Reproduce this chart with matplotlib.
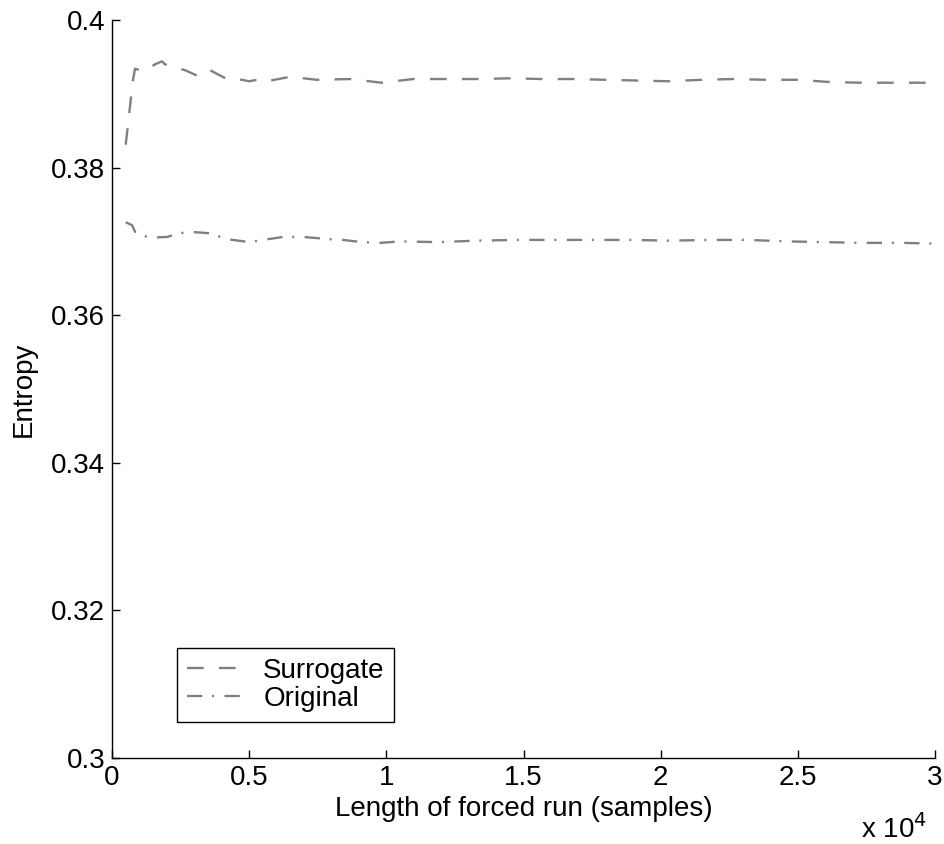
import matplotlib
matplotlib.use("Agg")
import matplotlib.pyplot as plt
from matplotlib.ticker import FuncFormatter

plt.rcParams['font.family'] = ['Liberation Sans', 'DejaVu Sans']
plt.rcParams['lines.scale_dashes'] = False

surr_x = [500, 765, 840, 1020, 1200, 1570, 1820, 1930, 2300, 2480, 2660, 3140, 3390, 3570,
          4190, 4370, 4590, 5000, 5300, 5500, 6490, 7470, 8680, 9840, 10970, 12140, 13300,
          14510, 15670, 16800, 17970, 19100, 20300, 21510, 22640, 23800, 24970, 26140,
          27300, 28470, 30000]
surr_y = [0.3831, 0.3919, 0.3934, 0.3932, 0.3931, 0.3940, 0.3944, 0.3940, 0.3935, 0.3934,
          0.3932, 0.3924, 0.3929, 0.3932, 0.3920, 0.3921, 0.3920, 0.3917, 0.3919, 0.3916,
          0.3923, 0.3919, 0.3920, 0.3915, 0.3920, 0.3920, 0.3920, 0.3921, 0.3920, 0.3920,
          0.3919, 0.3918, 0.3917, 0.3919, 0.3920, 0.3919, 0.3919, 0.3916, 0.3915, 0.3915,
          0.3915]

orig_x = [500, 730, 840, 1130, 1310, 2000, 2480, 2840, 3570, 4190, 5030, 5500, 6230, 6960,
          7950, 8420, 9110, 9770, 10500, 11880, 13300, 14760, 16150, 17530, 18950, 20340,
          21800, 23180, 24600, 25990, 27370, 28800, 30000]
orig_y = [0.3726, 0.3722, 0.3713, 0.3709, 0.3705, 0.3706, 0.3711, 0.3713, 0.3711, 0.3703,
          0.3699, 0.3702, 0.3706, 0.3706, 0.3703, 0.3702, 0.3699, 0.3698, 0.3700, 0.3699,
          0.3701, 0.3702, 0.3702, 0.3702, 0.3702, 0.3701, 0.3702, 0.3702, 0.3700, 0.3699,
          0.3698, 0.3698, 0.3697]

x_ticks = [0, 5000, 10000, 15000, 20000, 25000, 30000]
y_ticks = [0.30, 0.32, 0.34, 0.36, 0.38, 0.40]

fig = plt.figure(figsize=(9.45, 8.44), dpi=100)
ax = fig.add_axes([112/945, 1 - 758/844, (935 - 112)/945, (758 - 20)/844])

gray = '#808080'
ax.plot(surr_x, surr_y, color=gray, lw=1.7, dashes=[12, 11], label='Surrogate')
ax.plot(orig_x, orig_y, color=gray, lw=1.7, dashes=[11, 7, 1.5, 7.5], label='Original')

ax.set_xlim(0, 30000)
ax.set_ylim(0.3, 0.4)
ax.set_xticks(x_ticks)
ax.set_yticks(y_ticks)

def xfmt(v, pos):
    return f"{v/1e4:g}"
def yfmt(v, pos):
    return f"{v:g}"
ax.xaxis.set_major_formatter(FuncFormatter(xfmt))
ax.yaxis.set_major_formatter(FuncFormatter(yfmt))

for s in ['top', 'right']:
    ax.spines[s].set_visible(False)
for s in ['left', 'bottom']:
    ax.spines[s].set_linewidth(1.0)
ax.tick_params(direction='in', length=6, width=1.0, labelsize=20, pad=5)

ax.set_xlabel('Length of forced run (samples)', fontsize=20)
ax.set_ylabel('Entropy', fontsize=20)
ax.xaxis.set_label_coords(0.5, -0.052)
ax.yaxis.set_label_coords(-0.091, 0.5)
fig.text(927/945, 1 - 838/844, r'x 10$^{4}$', fontsize=20, ha='right', va='baseline')

leg = ax.legend(loc='lower left', bbox_to_anchor=(0.079, 0.049), fontsize=20,
                frameon=True, fancybox=False, edgecolor='black', framealpha=1,
                handlelength=1.9, borderpad=0.35, labelspacing=0.08, handletextpad=0.85,
                borderaxespad=0)
leg.get_frame().set_linewidth(1.0)

fig.savefig('out.png', dpi=100)
